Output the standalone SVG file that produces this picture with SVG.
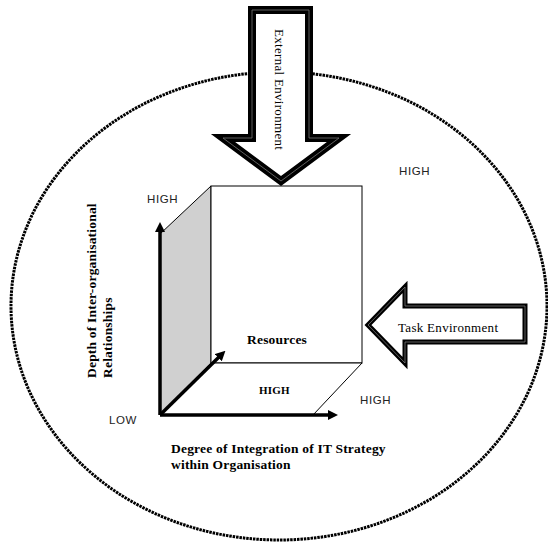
<svg xmlns="http://www.w3.org/2000/svg" width="548" height="554" viewBox="0 0 548 554">
<style>
.sans{font-family:"Liberation Sans",Arial,sans-serif;font-size:11.5px;fill:#222;letter-spacing:0.6px}
.serif{font-family:"Liberation Serif","Times New Roman",serif;font-size:13px;fill:#000;letter-spacing:0.3px}
.bold{font-family:"Liberation Serif","Times New Roman",serif;font-weight:bold;font-size:13.5px;fill:#000;letter-spacing:0.2px}
.edge{fill:#fff;stroke:#000;stroke-width:1}
.axis{fill:none;stroke:#000;stroke-width:3.5;marker-end:url(#ah)}
.bigout{fill:#fff;stroke:#000;stroke-linejoin:miter}
.inner{fill:none;stroke:#777;stroke-width:0.8}
</style>
<defs>
<marker id="ah" viewBox="0 0 10 10" refX="1" refY="5" markerWidth="10" markerHeight="10" markerUnits="userSpaceOnUse" orient="auto">
<path d="M0,0 L10,5 L0,10 Z" fill="#000"/>
</marker>
</defs>
<rect width="548" height="554" fill="#fff"/>
<g id="environment-boundary">
<ellipse cx="279" cy="306" rx="268" ry="234" fill="none" stroke="#000" stroke-width="3" stroke-dasharray="2.5 0.9"/>
</g>
<g id="cube">
<polygon points="211,186 160,234 160,415 211,363" fill="#d0d0d0" stroke="#000" stroke-width="1"/>
<rect x="211" y="186" width="151" height="177" class="edge"/>
<polygon points="211,363 362,363 313,415 160,415" class="edge"/>
<text class="bold" x="247" y="344">Resources</text>
<text class="bold" x="259" y="394" style="font-size:11px">HIGH</text>
</g>
<g id="connectors">
<line x1="160" y1="415" x2="160" y2="231" class="axis"/>
<line x1="160" y1="415" x2="329" y2="415" class="axis"/>
<line x1="160" y1="415" x2="219" y2="357" class="axis"/>
</g>
<g id="external-environment">
<path d="M252,10 H309 V138 H339 L281,181 L223,138 H252 Z" class="bigout" stroke-width="8"/>
<path d="M252,10 H309 V138 H339 L281,181 L223,138 H252 Z" class="inner"/>
<text class="serif" transform="translate(275,29) rotate(90)">External Environment</text>
</g>
<g id="task-environment">
<path d="M368,325 L405,287 V306 H525 V342 H405 V363 Z" class="bigout" stroke-width="5"/>
<path d="M368,325 L405,287 V306 H525 V342 H405 V363 Z" class="inner"/>
<text class="serif" x="398" y="332">Task Environment</text>
</g>
<g id="labels">
<text class="sans" x="147" y="203">HIGH</text>
<text class="sans" x="399" y="175">HIGH</text>
<text class="sans" x="360" y="404">HIGH</text>
<text class="sans" x="109" y="424">LOW</text>
<text class="bold" x="171" y="453">Degree of Integration of IT Strategy</text>
<text class="bold" x="171" y="469">within Organisation</text>
<text class="bold" transform="translate(96,378) rotate(-90)">Depth of Inter-organisational</text>
<text class="bold" transform="translate(112,378) rotate(-90)">Relationships</text>
</g>
</svg>
